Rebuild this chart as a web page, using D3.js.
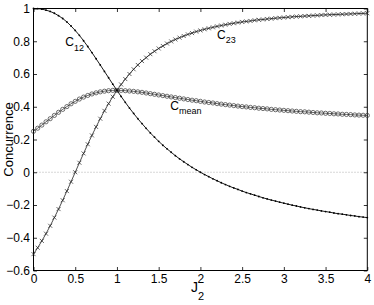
<!DOCTYPE html>
<html>
<head>
<meta charset="utf-8">
<script src="https://cdn.jsdelivr.net/npm/d3@7"></script>
<style>
  html, body { margin: 0; padding: 0; background: #fff; }
  svg text { font-family: "Liberation Sans", Arial, Helvetica, sans-serif; fill: #000; }
</style>
</head>
<body>
<div id="chart"></div>
<script>
// J2 sampling grid (0 .. 4, step 0.05)
const j2 = [
  0.00,0.05,0.10,0.15,0.20,0.25,0.30,0.35,0.40,0.45,0.50,0.55,0.60,0.65,0.70,0.75,0.80,0.85,0.90,0.95,
  1.00,1.05,1.10,1.15,1.20,1.25,1.30,1.35,1.40,1.45,1.50,1.55,1.60,1.65,1.70,1.75,1.80,1.85,1.90,1.95,
  2.00,2.05,2.10,2.15,2.20,2.25,2.30,2.35,2.40,2.45,2.50,2.55,2.60,2.65,2.70,2.75,2.80,2.85,2.90,2.95,
  3.00,3.05,3.10,3.15,3.20,3.25,3.30,3.35,3.40,3.45,3.50,3.55,3.60,3.65,3.70,3.75,3.80,3.85,3.90,3.95,
  4.00
];

const c12 = [
  1.000,0.999,0.996,0.990,0.982,0.971,0.956,0.939,0.918,0.893,0.866,0.836,0.803,0.768,0.731,0.693,0.655,0.616,0.577,0.538,
  0.500,0.463,0.427,0.392,0.359,0.327,0.297,0.268,0.240,0.214,0.189,0.165,0.143,0.122,0.101,0.082,0.064,0.047,0.030,0.015,
  0.000,-0.014,-0.027,-0.040,-0.052,-0.064,-0.075,-0.086,-0.096,-0.105,-0.115,-0.124,-0.132,-0.140,-0.148,-0.156,-0.163,-0.170,-0.176,-0.183,
  -0.189,-0.195,-0.201,-0.206,-0.212,-0.217,-0.222,-0.227,-0.231,-0.236,-0.240,-0.244,-0.249,-0.253,-0.256,-0.260,-0.264,-0.267,-0.271,-0.274,
  -0.277
];

const c23 = [
  -0.500,-0.461,-0.419,-0.375,-0.327,-0.277,-0.225,-0.171,-0.115,-0.058,0.000,0.058,0.115,0.171,0.225,0.277,0.327,0.375,0.419,0.461,
  0.500,0.536,0.569,0.600,0.629,0.655,0.679,0.700,0.721,0.739,0.756,0.771,0.786,0.799,0.811,0.822,0.832,0.842,0.850,0.859,
  0.866,0.873,0.879,0.885,0.891,0.896,0.901,0.906,0.910,0.914,0.918,0.921,0.924,0.928,0.931,0.933,0.936,0.938,0.941,0.943,
  0.945,0.947,0.949,0.951,0.952,0.954,0.955,0.957,0.958,0.960,0.961,0.962,0.963,0.964,0.965,0.966,0.967,0.968,0.969,0.970,
  0.971
];

const cMean = [
  0.250,0.269,0.288,0.308,0.327,0.347,0.366,0.384,0.401,0.418,0.433,0.447,0.459,0.469,0.478,0.485,0.491,0.495,0.498,0.500,
  0.500,0.500,0.498,0.496,0.494,0.491,0.488,0.484,0.480,0.476,0.472,0.468,0.464,0.460,0.456,0.452,0.448,0.444,0.440,0.437,
  0.433,0.429,0.426,0.423,0.419,0.416,0.413,0.410,0.407,0.404,0.401,0.399,0.396,0.394,0.391,0.389,0.387,0.384,0.382,0.380,
  0.378,0.376,0.374,0.372,0.370,0.369,0.367,0.365,0.363,0.362,0.360,0.359,0.357,0.356,0.354,0.353,0.352,0.350,0.349,0.348,
  0.347
];

const xTicks = [0, 0.5, 1, 1.5, 2, 2.5, 3, 3.5, 4];
const yTicks = [-0.6, -0.4, -0.2, 0, 0.2, 0.4, 0.6, 0.8, 1];

// curve labels: [main, subscript, J2 position, C position]
const labels = [
  ["C", "12", 0.38, 0.77],
  ["C", "23", 2.20, 0.815],
  ["C", "mean", 1.64, 0.382]
];

const W = 374, H = 305;
const margin = { top: 8.5, right: 6.7, bottom: 34.5, left: 33.5 };
const innerW = W - margin.left - margin.right;
const innerH = H - margin.top - margin.bottom;

const svg = d3.select("#chart").append("svg")
  .attr("width", W)
  .attr("height", H);

const g = svg.append("g")
  .attr("transform", `translate(${margin.left},${margin.top})`);

const x = d3.scaleLinear().domain([0, 4]).range([0, innerW]);
const y = d3.scaleLinear().domain([-0.6, 1]).range([innerH, 0]);

const fmt = d => d3.format("")(d).replace("-", "\u2212");

// zero reference line (dotted)
g.append("line")
  .attr("x1", 0).attr("x2", innerW)
  .attr("y1", y(0)).attr("y2", y(0))
  .attr("stroke", "#9a9a9a")
  .attr("stroke-width", 0.8)
  .attr("stroke-dasharray", "1,2");

// axes, ticks pointing inward like matlab
const tk = 3.5;
g.append("g")
  .attr("transform", `translate(0,${innerH})`)
  .call(d3.axisBottom(x).tickValues(xTicks).tickFormat(fmt).tickSizeInner(-tk).tickSizeOuter(0).tickPadding(4));
g.append("g")
  .call(d3.axisLeft(y).tickValues(yTicks).tickFormat(fmt).tickSizeInner(-tk).tickSizeOuter(0).tickPadding(3.5));
g.append("g")
  .call(d3.axisTop(x).tickValues(xTicks).tickFormat("").tickSizeInner(-tk).tickSizeOuter(0));
g.append("g")
  .attr("transform", `translate(${innerW},0)`)
  .call(d3.axisRight(y).tickValues(yTicks).tickFormat("").tickSizeInner(-tk).tickSizeOuter(0));

g.selectAll(".tick text").style("font-size", "12px");
g.selectAll(".domain").remove();
g.selectAll(".tick line").attr("stroke", "#000").attr("stroke-width", 0.8);

g.append("rect")
  .attr("width", innerW).attr("height", innerH)
  .attr("fill", "none").attr("stroke", "#000").attr("stroke-width", 1);

const line = d3.line().x(d => x(d[0])).y(d => y(d[1]));
const pts = arr => j2.map((j, i) => [j, arr[i]]);

// C_mean : line with circles
g.append("path")
  .attr("d", line(pts(cMean)))
  .attr("fill", "none").attr("stroke", "#000").attr("stroke-width", 0.6);
g.selectAll(".mk-o").data(pts(cMean)).enter().append("circle")
  .attr("class", "mk-o")
  .attr("cx", d => x(d[0])).attr("cy", d => y(d[1]))
  .attr("r", 2.1)
  .attr("fill", "none").attr("stroke", "#333").attr("stroke-width", 0.7);

// C_23 : line with x markers
g.append("path")
  .attr("d", line(pts(c23)))
  .attr("fill", "none").attr("stroke", "#000").attr("stroke-width", 0.7);
const s = 2;
g.selectAll(".mk-x").data(pts(c23)).enter().append("path")
  .attr("class", "mk-x")
  .attr("d", d => {
    const cx = x(d[0]), cy = y(d[1]);
    return `M${cx - s},${cy - s}L${cx + s},${cy + s}M${cx - s},${cy + s}L${cx + s},${cy - s}`;
  })
  .attr("stroke", "#222").attr("stroke-width", 0.7);

// C_12 : line with dots
g.append("path")
  .attr("d", line(pts(c12)))
  .attr("fill", "none").attr("stroke", "#000").attr("stroke-width", 0.9);
g.selectAll(".mk-d").data(pts(c12)).enter().append("circle")
  .attr("class", "mk-d")
  .attr("cx", d => x(d[0])).attr("cy", d => y(d[1]))
  .attr("r", 0.9)
  .attr("fill", "#000");

// curve labels
labels.forEach(([m, sub, lx, ly]) => {
  const t = g.append("text")
    .attr("x", x(lx)).attr("y", y(ly))
    .style("font-size", "12px");
  t.append("tspan").text(m);
  t.append("tspan").attr("dy", 4.5).style("font-size", "9px").text(sub);
});

// axis labels
const xl = svg.append("text")
  .attr("x", 191).attr("y", 292)
  .style("font-size", "14px");
xl.append("tspan").text("J");
xl.append("tspan").attr("dy", 8).style("font-size", "11px").text("2");

svg.append("text")
  .attr("transform", `translate(12.5,${margin.top + innerH / 2}) rotate(-90)`)
  .attr("text-anchor", "middle")
  .style("font-size", "13px")
  .text("Concurrence");
</script>
</body>
</html>
